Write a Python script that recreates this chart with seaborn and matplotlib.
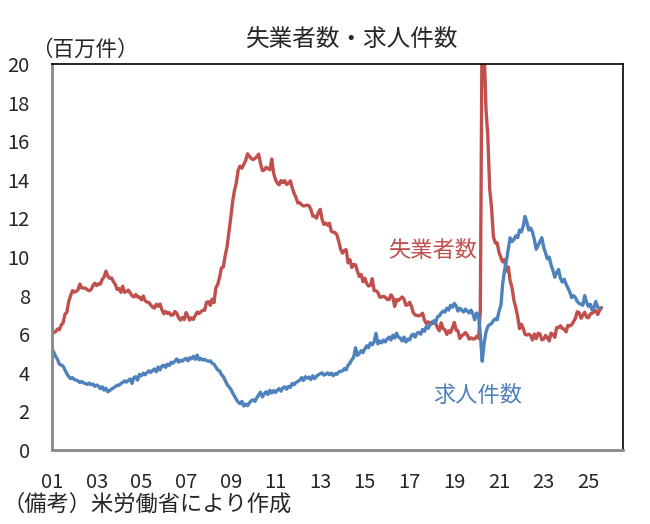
import matplotlib
matplotlib.use("Agg")
import matplotlib.pyplot as plt
import seaborn as sns
import pandas as pd

# unemployed persons (millions), monthly from Jan 2001
unemployed = [
    6.02, 6.09, 6.14, 6.27, 6.23, 6.48, 6.58, 7.04, 7.14, 7.69, 8.00, 8.26,   # 2001
    8.18, 8.22, 8.30, 8.60, 8.40, 8.39, 8.39, 8.30, 8.25, 8.31, 8.52, 8.64,   # 2002
    8.52, 8.62, 8.59, 8.84, 8.96, 9.27, 9.01, 8.90, 8.92, 8.73, 8.58, 8.32,   # 2003
    8.37, 8.17, 8.49, 8.17, 8.21, 8.29, 8.14, 7.99, 7.93, 8.06, 7.93, 7.93,   # 2004
    7.78, 7.98, 7.74, 7.67, 7.65, 7.52, 7.41, 7.35, 7.55, 7.45, 7.57, 7.28,   # 2005
    7.06, 7.18, 7.07, 7.12, 6.98, 7.00, 7.18, 7.09, 6.85, 6.73, 6.87, 6.76,   # 2006
    7.12, 6.93, 6.73, 6.85, 6.77, 6.98, 7.15, 7.07, 7.17, 7.24, 7.24, 7.65,   # 2007
    7.69, 7.50, 7.82, 7.64, 8.40, 8.58, 8.94, 9.44, 9.49, 10.07, 10.54, 11.29,  # 2008
    12.06, 12.90, 13.43, 13.85, 14.50, 14.71, 14.60, 14.81, 15.01, 15.35, 15.22, 15.10,  # 2009
    15.05, 15.11, 15.20, 15.33, 14.85, 14.47, 14.51, 14.65, 14.58, 14.52, 15.08, 14.35,  # 2010
    14.01, 13.82, 13.74, 13.96, 13.86, 13.96, 13.76, 13.82, 13.95, 13.59, 13.30, 13.09,  # 2011
    12.80, 12.81, 12.71, 12.65, 12.66, 12.69, 12.66, 12.47, 12.12, 12.12, 12.01, 12.30,  # 2012
    12.47, 11.95, 11.69, 11.76, 11.65, 11.75, 11.34, 11.28, 11.27, 11.14, 10.79, 10.40,  # 2013
    10.20, 10.35, 10.38, 9.70, 9.86, 9.46, 9.61, 9.60, 9.26, 8.99, 9.09, 8.72,   # 2014
    8.90, 8.61, 8.50, 8.53, 8.88, 8.26, 8.25, 8.17, 7.92, 7.93, 7.97, 7.91,   # 2015
    7.80, 7.80, 8.04, 7.92, 7.44, 7.80, 7.74, 7.84, 7.93, 7.81, 7.50, 7.52,   # 2016
    7.65, 7.44, 7.12, 7.00, 6.97, 6.95, 7.00, 7.09, 6.72, 6.55, 6.64, 6.57,   # 2017
    6.63, 6.57, 6.57, 6.34, 6.18, 6.59, 6.30, 6.23, 5.99, 6.18, 6.08, 6.33,   # 2018
    6.61, 6.21, 6.18, 5.78, 5.92, 5.98, 6.09, 5.96, 5.75, 5.81, 5.75, 5.76,   # 2019
    5.89, 5.79, 7.19, 23.08, 20.99, 17.70, 16.31, 13.54, 12.54, 11.05, 10.73, 10.74,  # 2020
    10.24, 9.97, 9.75, 9.87, 9.27, 9.49, 8.77, 8.41, 7.76, 7.38, 6.92, 6.29,   # 2021
    6.52, 6.29, 6.00, 5.96, 6.00, 5.93, 5.70, 6.01, 5.77, 6.05, 6.01, 5.71,   # 2022
    5.75, 5.94, 5.82, 5.65, 6.06, 5.99, 5.84, 6.35, 6.34, 6.44, 6.29, 6.27,   # 2023
    6.12, 6.46, 6.43, 6.49, 6.65, 6.81, 7.16, 7.12, 6.83, 6.98, 7.14, 6.89,   # 2024
    6.85, 7.05, 7.08, 7.16, 7.24, 7.02, 7.24, 7.38,                           # 2025
]

# job openings (millions), monthly from Jan 2001
openings = [
    5.25, 5.05, 4.85, 4.70, 4.45, 4.40, 4.35, 4.15, 3.95, 3.80, 3.70, 3.75,   # 2001
    3.65, 3.62, 3.58, 3.50, 3.55, 3.48, 3.44, 3.40, 3.47, 3.38, 3.42, 3.30,   # 2002
    3.37, 3.30, 3.18, 3.28, 3.10, 3.20, 3.02, 3.08, 3.15, 3.22, 3.28, 3.36,   # 2003
    3.35, 3.45, 3.50, 3.58, 3.52, 3.60, 3.68, 3.45, 3.75, 3.80, 3.62, 3.92,   # 2004
    3.85, 3.98, 3.90, 4.00, 4.10, 4.02, 4.12, 4.20, 4.05, 4.30, 4.15, 4.35,   # 2005
    4.40, 4.28, 4.45, 4.38, 4.55, 4.50, 4.60, 4.72, 4.55, 4.65, 4.60, 4.70,   # 2006
    4.75, 4.62, 4.78, 4.72, 4.85, 4.70, 4.92, 4.68, 4.75, 4.66, 4.70, 4.63,   # 2007
    4.60, 4.62, 4.50, 4.45, 4.30, 4.15, 4.10, 3.90, 3.80, 3.60, 3.40, 3.28,   # 2008
    3.15, 2.95, 2.80, 2.62, 2.48, 2.40, 2.52, 2.28, 2.38, 2.30, 2.45, 2.55,   # 2009
    2.60, 2.52, 2.70, 2.85, 3.00, 2.75, 2.90, 3.02, 2.88, 3.10, 2.95, 3.08,   # 2010
    2.98, 3.10, 3.18, 3.05, 3.22, 3.28, 3.15, 3.30, 3.25, 3.45, 3.38, 3.50,   # 2011
    3.55, 3.62, 3.75, 3.60, 3.80, 3.72, 3.78, 3.65, 3.85, 3.70, 3.82, 3.90,   # 2012
    3.95, 4.00, 3.88, 3.92, 4.00, 3.90, 3.98, 3.85, 3.96, 3.92, 4.05, 4.08,   # 2013
    4.10, 4.22, 4.15, 4.40, 4.50, 4.68, 4.80, 5.30, 4.90, 5.00, 5.15, 5.05,   # 2014
    5.25, 5.40, 5.30, 5.55, 5.45, 5.60, 6.05, 5.50, 5.65, 5.55, 5.70, 5.60,   # 2015
    5.75, 5.85, 5.70, 5.95, 5.80, 6.05, 5.85, 5.80, 5.65, 5.85, 5.60, 5.75,   # 2016
    5.70, 5.95, 6.00, 5.85, 6.05, 6.10, 6.00, 6.25, 6.15, 6.40, 6.30, 6.50,   # 2017
    6.55, 6.70, 6.60, 6.90, 6.95, 7.10, 7.20, 7.15, 7.35, 7.25, 7.50, 7.40,   # 2018
    7.60, 7.45, 7.20, 7.35, 7.25, 7.15, 7.30, 7.20, 7.10, 7.25, 7.05, 6.75,   # 2019
    7.10, 7.00, 6.00, 4.60, 5.50, 6.10, 6.40, 6.50, 6.55, 6.70, 6.80, 6.75,   # 2020
    7.20, 7.50, 8.60, 9.30, 9.80, 10.40, 11.00, 10.80, 10.90, 11.10, 11.00, 11.40,  # 2021
    11.30, 11.60, 12.10, 11.80, 11.40, 11.50, 11.30, 10.90, 10.40, 10.60, 10.80, 11.00,  # 2022
    10.50, 10.20, 9.90, 10.00, 9.60, 9.30, 8.95, 9.20, 9.35, 8.90, 8.70, 8.85,   # 2023
    8.60, 8.40, 8.20, 7.90, 8.00, 7.90, 7.70, 7.60, 7.55, 7.50, 8.00, 7.65,   # 2024
    7.45, 7.55, 7.25, 7.40, 7.70, 7.40, 7.35,                                 # 2025
]

tick_years = list(range(2001, 2026, 2))
y_ticks = list(range(0, 21, 2))

red = "#C0504D"
blue = "#4F81BD"

df_u = pd.DataFrame({"date": pd.date_range("2001-01-01", periods=len(unemployed), freq="MS"),
                     "value": unemployed})
df_o = pd.DataFrame({"date": pd.date_range("2001-01-01", periods=len(openings), freq="MS"),
                     "value": openings})

sns.set_style("white")
plt.rcParams["font.family"] = ["Noto Sans CJK JP", "DejaVu Sans"]

fig = plt.figure(figsize=(6.5, 5.24), dpi=100)
ax = fig.add_axes([0.08, 0.1412, 0.8785, 0.7366])

sns.lineplot(data=df_u, x="date", y="value", color=red, linewidth=2.4, ax=ax)
sns.lineplot(data=df_o, x="date", y="value", color=blue, linewidth=2.4, ax=ax)

ax.set_xlim(pd.Timestamp("2001-01-01"), pd.Timestamp("2026-07-20"))
ax.set_ylim(0, 20)
ax.set_xlabel("")
ax.set_ylabel("")

ax.set_xticks([pd.Timestamp(f"{y}-01-01") for y in tick_years])
ax.set_xticklabels([f"{y % 100:02d}" for y in tick_years])
ax.set_yticks(y_ticks)
ax.set_yticklabels([str(v) for v in y_ticks])
ax.tick_params(axis="x", length=0, pad=16, labelsize=14.5)
ax.tick_params(axis="y", length=6, width=1.5, color="#888888", direction="out",
               pad=10, labelsize=14.5)

for side in ["left", "bottom"]:
    ax.spines[side].set_color("#888888")
    ax.spines[side].set_linewidth(2)
for side in ["top", "right"]:
    ax.spines[side].set_color("black")
    ax.spines[side].set_linewidth(1.2)

# labels
ax.text(pd.Timestamp("2018-01-15"), 10.36, "失業者数", color=red, fontsize=16,
        ha="center", va="center")
ax.text(pd.Timestamp("2020-01-20"), 2.85, "求人件数", color=blue, fontsize=16,
        ha="center", va="center")

fig.text(352 / 650, 1 - 40 / 524, "失業者数・求人件数", fontsize=17, ha="center", va="center")
fig.text(31 / 650, 1 - 50 / 524, "（百万件）", fontsize=15.5, ha="left", va="center")
fig.text(2 / 650, 1 - 504 / 524, "（備考）米労働省により作成", fontsize=16, ha="left", va="center")

fig.savefig("out.png", dpi=100)
